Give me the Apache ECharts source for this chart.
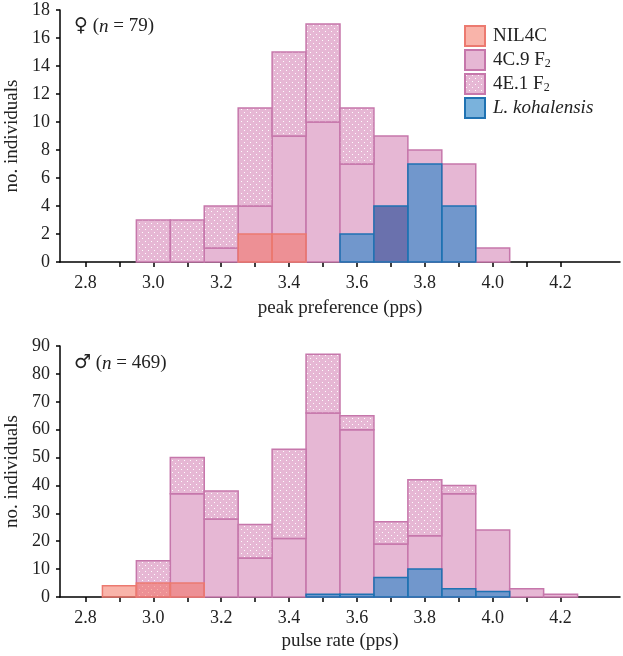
<!DOCTYPE html>
<html>
<head>
<meta charset="utf-8">
<script src="https://cdn.jsdelivr.net/npm/echarts@6/dist/echarts.min.js"></script>
<style>
  html, body { margin: 0; padding: 0; background: #fff; }
  #main { width: 623px; height: 656px; }
</style>
</head>
<body>
<div id="main"></div>
<script>
// bin centres (pps), bin width 0.1
const bins = [2.9, 3.0, 3.1, 3.2, 3.3, 3.4, 3.5, 3.6, 3.7, 3.8, 3.9, 4.0, 4.1, 4.2];

// females: peak preference
const fem4C9 = [0, 0, 0, 1, 4, 9, 10, 7, 9, 8, 7, 1, 0, 0];
const fem4E1 = [0, 3, 3, 3, 7, 6, 7, 4, 0, 0, 0, 0, 0, 0];
const femNIL = [0, 0, 0, 0, 2, 2, 0, 0, 0, 0, 0, 0, 0, 0];
const femLk  = [0, 0, 0, 0, 0, 0, 0, 2, 4, 7, 4, 0, 0, 0];

// males: pulse rate
const mal4C9 = [0, 0, 37, 28, 14, 21, 66, 60, 19, 22, 37, 24, 3, 1];
const mal4E1 = [0, 13, 13, 10, 12, 32, 21, 5, 8, 20, 3, 0, 0, 0];
const malNIL = [4, 5, 5, 0, 0, 0, 0, 0, 0, 0, 0, 0, 0, 0];
const malLk  = [0, 0, 0, 0, 0, 0, 1, 1, 7, 10, 3, 2, 0, 0];

const tickValues  = [2.8, 2.9, 3.0, 3.1, 3.2, 3.3, 3.4, 3.5, 3.6, 3.7, 3.8, 3.9, 4.0, 4.1, 4.2];
const labelValues = [2.8, 3.0, 3.2, 3.4, 3.6, 3.8, 4.0, 4.2];

const serif = 'Liberation Serif';
const pink = '#e6b7d4', pinkLine = '#c677ab';
const red = 'rgba(243,105,85,0.5)', redLine = '#ec7a70';
const blue = 'rgba(40,131,198,0.62)', blueLine = '#1f72b2';
const darkBlue = '#6a71ad';

// dotted fill for 4E.1 F2
const tile = document.createElement('canvas');
tile.width = 6; tile.height = 6;
const tc = tile.getContext('2d');
tc.fillStyle = pink; tc.fillRect(0, 0, 6, 6);
tc.fillStyle = 'rgba(255,255,255,0.95)';
tc.fillRect(1, 1, 1, 1);
tc.fillRect(4, 4, 1, 1);
const dots = { image: tile, repeat: 'repeat' };

// [centre, base, top] items
function stackBase(vals) {
  return bins.map((b, i) => [b, 0, vals[i]]);
}
function stackTop(lower, upper) {
  return bins.map((b, i) => [b, lower[i], lower[i] + upper[i]]);
}

function barRender(fill, stroke, darkAt) {
  return function (params, api) {
    const x = api.value(0), y0 = api.value(1), y1 = api.value(2);
    if (y1 <= y0) return null;
    const p0 = api.coord([x - 0.05, y1]);
    const p1 = api.coord([x + 0.05, y0]);
    return {
      type: 'rect',
      shape: { x: p0[0], y: p0[1], width: p1[0] - p0[0], height: p1[1] - p0[1] },
      style: { fill: (darkAt !== undefined && Math.abs(x - darkAt) < 1e-6) ? darkBlue : fill, stroke: stroke, lineWidth: 1.5 }
    };
  };
}

function makeSeries(name, idx, data, fill, stroke, darkAt) {
  return {
    type: 'custom',
    name: name,
    xAxisIndex: idx, yAxisIndex: idx,
    renderItem: barRender(fill, stroke, darkAt),
    itemStyle: { color: fill, borderColor: stroke, borderWidth: 1.5 },
    encode: { x: 0, y: [1, 2] },
    data: data
  };
}

function xAxisOf(idx, name, gap) {
  return {
    type: 'value', gridIndex: idx, min: 2.725, max: 4.375,
    name: name, nameLocation: 'middle', nameGap: gap,
    nameTextStyle: { fontFamily: serif, fontSize: 19, color: '#222' },
    axisLine: { lineStyle: { color: '#000', width: 1.5 } },
    axisTick: { show: true, length: 5, lineStyle: { color: '#000', width: 1.5 }, customValues: tickValues },
    axisLabel: { customValues: labelValues, margin: 12, fontFamily: serif, fontSize: 18, color: '#222',
      formatter: v => v.toFixed(1) },
    splitLine: { show: false }
  };
}

function yAxisOf(idx, max, interval) {
  return {
    type: 'value', gridIndex: idx, min: 0, max: max, interval: interval,
    name: 'no. individuals', nameLocation: 'middle', nameGap: 37,
    nameTextStyle: { fontFamily: serif, fontSize: 19, color: '#222' },
    axisLine: { show: true, lineStyle: { color: '#000', width: 1.5 } },
    axisTick: { show: true, length: 4, lineStyle: { color: '#000', width: 1.5 } },
    axisLabel: { margin: 10, fontFamily: serif, fontSize: 18, color: '#222' },
    splitLine: { show: false }
  };
}

const chart = echarts.init(document.getElementById('main'), null, { renderer: 'canvas' });
chart.setOption({
  animation: false,
  backgroundColor: '#fff',
  grid: [
    { left: 60, top: 10, width: 560, height: 252, outerBoundsMode: 'none', containLabel: false },
    { left: 60, top: 346, width: 560, height: 251, outerBoundsMode: 'none', containLabel: false }
  ],
  xAxis: [xAxisOf(0, 'peak preference (pps)', 37), xAxisOf(1, 'pulse rate (pps)', 35)],
  yAxis: [yAxisOf(0, 18, 2), yAxisOf(1, 90, 10)],
  legend: {
    orient: 'vertical', left: 464, top: 25, padding: 0,
    itemWidth: 20, itemHeight: 20, itemGap: 2,
    icon: 'rect',
    data: ['NIL4C', '4C.9 F2', '4E.1 F2', 'L. kohalensis'],
    formatter: function (n) {
      if (n === '4C.9 F2') return '4C.9 F{sub|2}';
      if (n === '4E.1 F2') return '4E.1 F{sub|2}';
      if (n === 'L. kohalensis') return '{it|L. kohalensis}';
      return n;
    },
    textStyle: {
      fontFamily: serif, fontSize: 19, color: '#222', lineHeight: 20, padding: [0, 0, 0, 3],
      rich: {
        sub: { fontFamily: serif, fontSize: 12, color: '#222', lineHeight: 20, verticalAlign: 'bottom', padding: [9, 0, 0, 0] },
        it: { fontFamily: serif, fontSize: 19, color: '#222', lineHeight: 20, fontStyle: 'italic' }
      }
    }
  },
  graphic: [
    { type: 'text', left: 74, top: 17, style: {
      text: '{s|♀} ({i|n} = 79)', fontFamily: serif, fontSize: 19, fill: '#222',
      rich: { s: { fontFamily: 'DejaVu Sans', fontSize: 19, fontWeight: 'bold', fill: '#222' },
              i: { fontFamily: serif, fontSize: 19, fontStyle: 'italic', fill: '#222' } } } },
    { type: 'text', left: 74, top: 354, style: {
      text: '{s|♂} ({i|n} = 469)', fontFamily: serif, fontSize: 19, fill: '#222',
      rich: { s: { fontFamily: 'DejaVu Sans', fontSize: 19, fontWeight: 'bold', fill: '#222' },
              i: { fontFamily: serif, fontSize: 19, fontStyle: 'italic', fill: '#222' } } } }
  ],
  series: [
    makeSeries('4C.9 F2', 0, stackBase(fem4C9), pink, pinkLine),
    makeSeries('4E.1 F2', 0, stackTop(fem4C9, fem4E1), dots, pinkLine),
    makeSeries('NIL4C', 0, stackBase(femNIL), red, redLine),
    makeSeries('L. kohalensis', 0, stackBase(femLk), blue, blueLine, 3.7),
    makeSeries('4C.9 F2', 1, stackBase(mal4C9), pink, pinkLine),
    makeSeries('4E.1 F2', 1, stackTop(mal4C9, mal4E1), dots, pinkLine),
    makeSeries('NIL4C', 1, stackBase(malNIL), red, redLine),
    makeSeries('L. kohalensis', 1, stackBase(malLk), blue, blueLine)
  ]
});
window.addEventListener('resize', function () { chart.resize(); });
</script>
</body>
</html>
